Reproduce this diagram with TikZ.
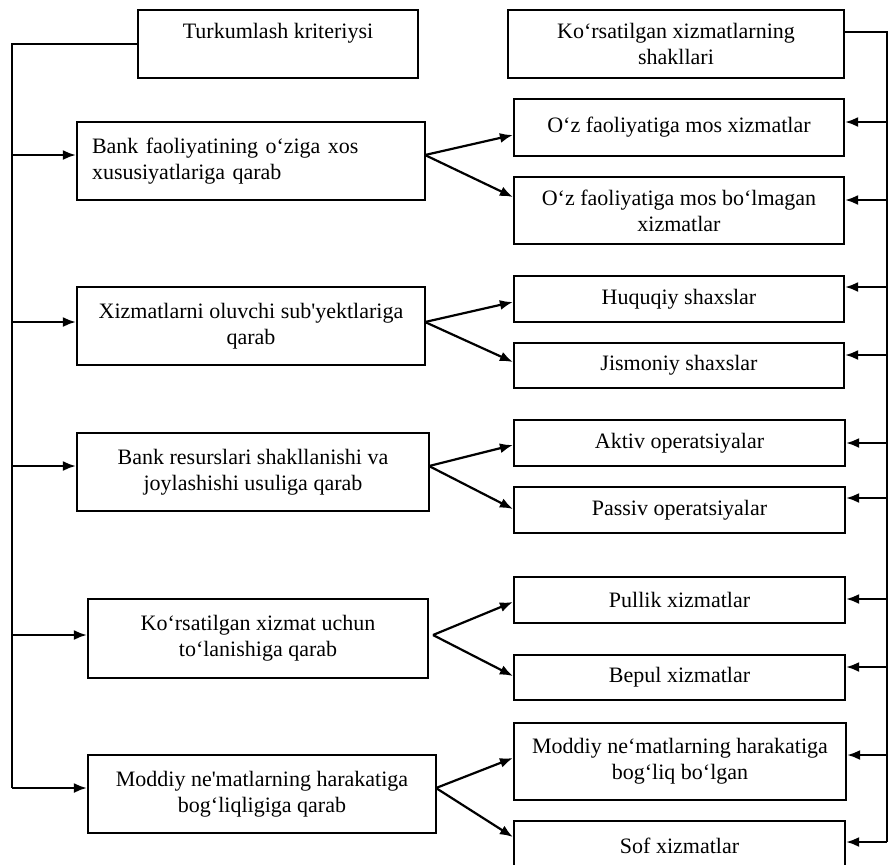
\documentclass[tikz,border=0pt]{standalone}
\usepackage{fontspec}
\newfontfamily\tnr{Liberation Serif}
\usetikzlibrary{arrows.meta}
\begin{document}
\begin{tikzpicture}[x=0.5pt,y=-0.5pt,
  box/.style={draw,line width=1.1pt,inner sep=0pt,align=center,
    font=\tnr\fontsize{11}{13}\selectfont},
  conn/.style={line width=1.1pt},
  arr/.style={line width=1.1pt,-{Latex[length=6.5pt,width=5pt]}}]
\useasboundingbox (0,0) rectangle (888,864);
\clip (0,0) rectangle (888,864);
% left column
\node[box,minimum width=140pt,minimum height=34pt] (L0) at (278,44) {Turkumlash kriteriysi\\\mbox{}};
\node[box,minimum width=174pt,minimum height=39pt,align=left,text width=159pt] (L1) at (251,161) {Bank faoliyatining o‘ziga xos\\xususiyatlariga qarab};
\node[box,minimum width=174pt,minimum height=39pt] (L2) at (251,326) {Xizmatlarni oluvchi sub'yektlariga\\qarab};
\node[box,minimum width=176pt,minimum height=39pt] (L3) at (253,472) {Bank resurslari shakllanishi va\\joylashishi usuliga qarab};
\node[box,minimum width=170pt,minimum height=39.5pt] (L4) at (258,638.5) {Ko‘rsatilgan xizmat uchun\\to‘lanishiga qarab};
\node[box,minimum width=174pt,minimum height=39pt] (L5) at (262,794) {Moddiy ne'matlarning harakatiga\\bog‘liqligiga qarab};
% right column
\node[box,minimum width=168pt,minimum height=34pt] (R0) at (676,44) {Ko‘rsatilgan xizmatlarning\\shakllari};
\node[box,minimum width=165pt,minimum height=28.5pt] (R1) at (679,127.5) {O‘z faoliyatiga mos xizmatlar};
\node[box,minimum width=165pt,minimum height=33.5pt] (R2) at (679,210.5) {O‘z faoliyatiga mos bo‘lmagan\\xizmatlar};
\node[box,minimum width=165pt,minimum height=23pt] (R3) at (679,299) {Huquqiy shaxslar};
\node[box,minimum width=165pt,minimum height=22.5pt] (R4) at (679,365.5) {Jismoniy shaxslar};
\node[box,minimum width=165.5pt,minimum height=23pt] (R5) at (679.5,443) {Aktiv operatsiyalar};
\node[box,minimum width=165.5pt,minimum height=23pt] (R6) at (679.5,510) {Passiv operatsiyalar};
\node[box,minimum width=165.5pt,minimum height=23pt] (R7) at (679.5,600) {Pullik xizmatlar};
\node[box,minimum width=165.5pt,minimum height=22.5pt] (R8) at (679.5,677.5) {Bepul xizmatlar};
\node[box,minimum width=166pt,minimum height=38.5pt] (R9) at (680,761.5) {Moddiy ne‘matlarning harakatiga\\bog‘liq bo‘lgan};
\node[box,minimum width=165.5pt,minimum height=25pt] (R10) at (679.5,846) {Sof xizmatlar};
% left bus
\coordinate (lt) at (12,44);
\coordinate (l1) at (12,155);
\coordinate (l2) at (12,322);
\coordinate (l3) at (12,466);
\coordinate (l4) at (12,635);
\coordinate (l5) at (12,788);
\draw[conn] (L0.west) -- (lt) -- (l5);
\foreach \i in {1,...,5}{\draw[arr] (l\i) -- (l\i -| L\i.west);}
% right bus
\coordinate (rt) at (887,32);
\coordinate (r1) at (887,122);
\coordinate (r2) at (887,200);
\coordinate (r3) at (887,287);
\coordinate (r4) at (887,355);
\coordinate (r5) at (887,443);
\coordinate (r6) at (887,498);
\coordinate (r7) at (887,599);
\coordinate (r8) at (887,667);
\coordinate (r9) at (887,755);
\coordinate (r10) at (887,842);
\draw[conn] (rt -| R0.east) -- (rt) -- (r10);
\foreach \i in {1,...,10}{\draw[arr] (r\i) -- (r\i -| R\i.east);}
% forks
\coordinate (f1) at (425,155);
\coordinate (f2) at (425,322);
\coordinate (f3) at (429,466);
\coordinate (f4) at (433,635);
\coordinate (f5) at (436,788);
\coordinate (a1) at (514,135); \coordinate (b1) at (514,197);
\coordinate (a2) at (514,302); \coordinate (b2) at (514,362);
\coordinate (a3) at (514,445); \coordinate (b3) at (514,509);
\coordinate (a4) at (514,602); \coordinate (b4) at (514,676);
\coordinate (a5) at (514,758); \coordinate (b5) at (514,837);
\draw[arr] (f1) -- (a1 -| R1.west);
\draw[arr] (f1) -- (b1 -| R2.west);
\draw[arr] (f2) -- (a2 -| R3.west);
\draw[arr] (f2) -- (b2 -| R4.west);
\draw[arr] (f3) -- (a3 -| R5.west);
\draw[arr] (f3) -- (b3 -| R6.west);
\draw[arr] (f4) -- (a4 -| R7.west);
\draw[arr] (f4) -- (b4 -| R8.west);
\draw[arr] (f5) -- (a5 -| R9.west);
\draw[arr] (f5) -- (b5 -| R10.west);
\end{tikzpicture}
\end{document}
